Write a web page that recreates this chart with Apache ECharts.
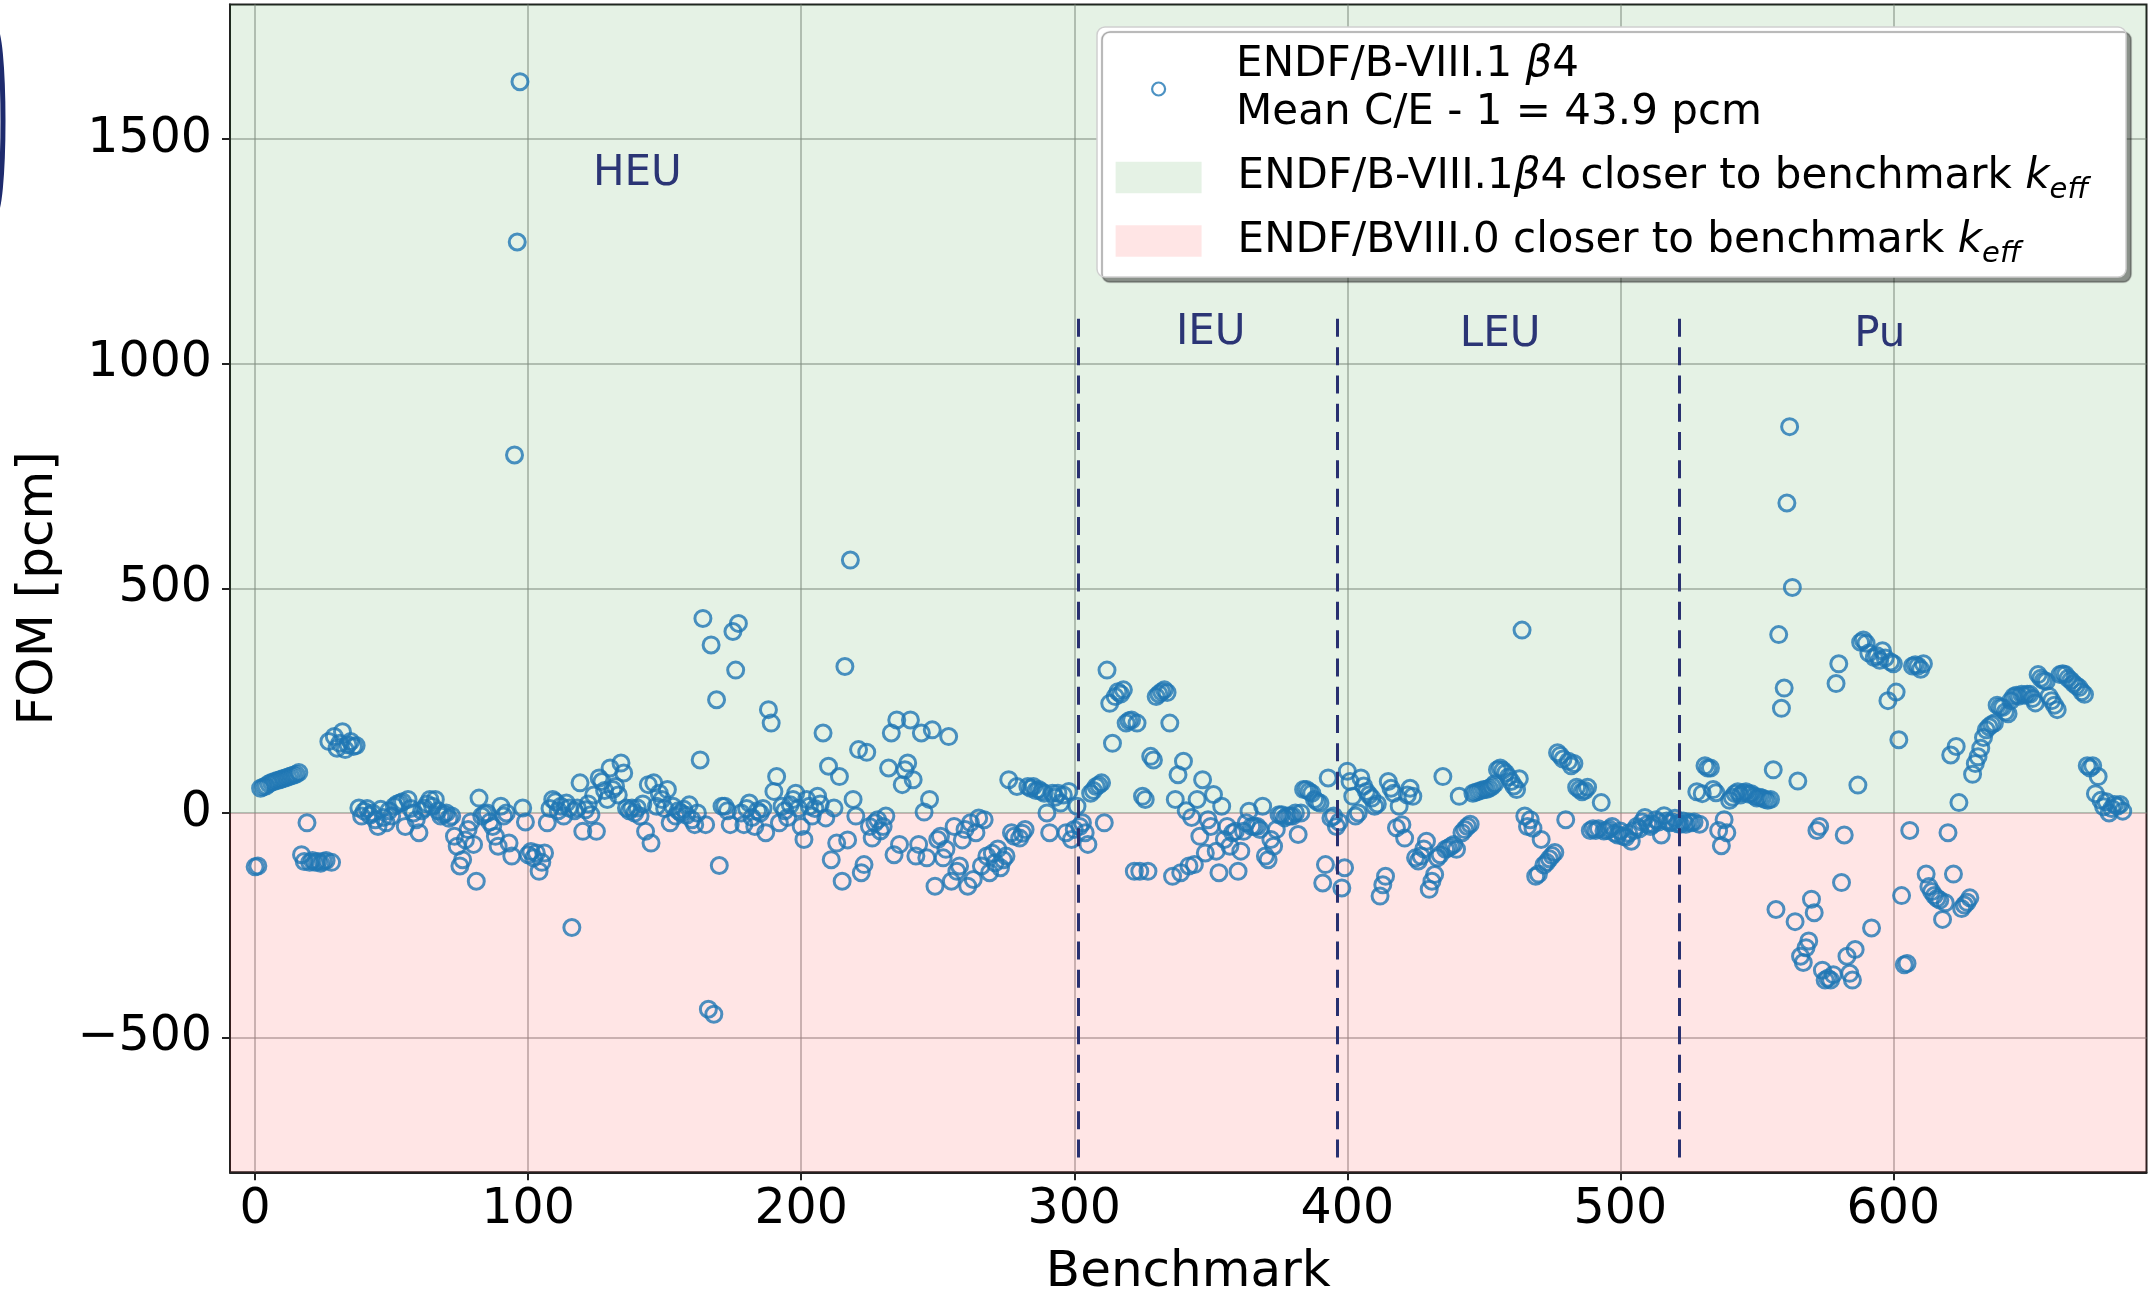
<!DOCTYPE html>
<html>
<head>
<meta charset="utf-8">
<script src="https://cdn.jsdelivr.net/npm/echarts@6/dist/echarts.min.js"></script>
<style>
html, body { margin: 0; padding: 0; background: #fff; }
#main { width: 2148px; height: 1292px; }
</style>
</head>
<body>
<div id="main"></div>
<script>
// FOM per benchmark (index = benchmark number)
var fom = [
    -120, -118, 55, 58, 60, 65, 68, 70, 72, 74,          // 0
    76, 78, 80, 82, 84, 86, 90, -93, -108, -22,          // 10
    -110, -106, -110, -108, -112, -108, -106, 159, -110, 170,
    144, 155, 181, 141, 152, 159, 148, 150, 11, -7,      // 30
    4, 10, -5, 0, -15, -30, 8, -10, -22, 5,
    -7, 15, 20, 22, 25, -30, 30, 10, 0, -15,             // 50
    -44, 5, 11, 20, 30, 15, 30, 5, -7, -3,
    0, -12, -7, -52, -74, -118, -104, -60, -37, -20,     // 70
    -70, -152, 33, -7, -2, 0, -20, -30, -52, -74,
    15, -7, 0, -67, -96, 797, 1271, 1628, 11, -20,       // 90
    -93, -86, -100, -89, -130, -110, -89, -22, 10, 30,
    25, 5, 15, -7, 22, 11, -255, 5, 11, 67,              // 110
    -41, 7, 20, -4, 40, -41, 78, 70, 50, 30,
    100, 52, 59, 40, 111, 89, 11, 5, 11, 0,              // 130
    11, -7, 20, -41, 63, -67, 67, 15, 44, 30,
    10, 52, -22, 15, -7, 5, 0, 8, -5, 18,                // 150
    -15, -26, 0, 118, 433, -26, -437, 374, -448, 252,
    -117, 15, 15, 5, -26, 404, 318, 422, 0, -26,         // 170
    10, 22, -10, -30, 5, 0, 10, -44, 230, 200,
    48, 81, -22, 15, 5, -10, 18, 30, 44, 10,             // 190
    -30, -59, 30, 15, -7, 10, 37, 20, 178, -11,
    104, -104, 11, -67, 81, -152, 326, -60, 563, 30,     // 210
    -7, 141, -133, -115, 135, -30, -56, -22, -15, -40,
    -30, -7, 100, 178, -93, 207, -70, 63, 96, 111,       // 230
    207, 74, -96, -70, 178, 2, -100, 30, 185, -163,
    -59, -52, -100, -81, 170, -152, -30, -130, -118, -60, // 250
    -37, -163, -22, -148, -44, -11, -118, -15, -96, -133,
    -90, -111, -80, -122, -104, -96, 74, -44, -52, 59,   // 270
    -56, -45, -37, 59, 55, 59, 50, 52, 48, 44,
    0, -44, 44, 35, 44, 22, 40, -44, 48, -59,            // 290
    -37, 15, -30, -22, -44, -70, 44, 50, 59, 62,
    67, -22, 318, 244, 155, 259, 270, 265, 274, 200,     // 310
    205, 207, -130, 200, -130, 37, 30, -130, 126, 118,
    259, 265, 270, 274, 268, 200, -141, 30, 85, -133,    // 330
    115, 5, -118, -10, -115, 30, -52, 74, -89, -15,
    -30, 41, -85, -133, 15, -59, -30, -74, -44, -41,     // 350
    -130, -85, -41, -22, 4, -30, -30, -30, -37, 15,
    -96, -104, -59, -74, -37, -4, -4, -11, -7, -7,       // 370
    -7, 0, -48, 0, 52, 52, 48, 44, 30, 25,
    22, -156, -115, 78, -11, -7, -30, -20, -167, -122,   // 390
    93, 70, 37, -7, 0, 78, 60, 48, 40, 33,
    15, 20, -185, -160, -141, 70, 55, 44, -33, 15,       // 410
    -26, -56, 40, 55, 37, -100, -107, -96, -80, -63,
    -170, -152, -137, -100, -93, 81, -81, -78, -74, -70, // 430
    -81, 37, -44, -37, -30, -25, 44, 46, 48, 50,
    52, 52, 55, 59, 65, 96, 100, 95, 89, 80,             // 450
    70, 60, 52, 76, 407, -7, -30, -15, -34, -141,
    -136, -59, -116, -110, -102, -95, -88, 134, 128, 120, // 470
    -15, 115, 105, 110, 57, 52, 47, 50, 57, -39,
    -35, -39, -35, 23, -40, -39, -36, -30, -45, -49,     // 490
    -40, -52, -54, -45, -63, -39, -30, -35, -20, -10,
    -25, -30, -25, -15, -20, -49, -6, -18, -22, -20,     // 510
    -12, -24, -25, -18, -25, -20, -22, -20, 47, -25,
    43, 105, 100, 100, 52, 45, -39, -73, -15, -44,       // 530
    28, 35, 43, 47, 40, 45, 47, 42, 43, 38,
    33, 35, 33, 30, 28, 30, 96, -215, 397, 233,          // 550
    278, 690, 860, 502, -242, 71, -319, -333, -300, -285,
    -192, -222, -39, -30, -350, -372, -368, -372, -360, 288, // 570
    332, -155, -49, -319, -357, -372, -304, 62, 380, 385,
    378, 356, -256, 346, 350, 340, 361, 345, 250, 336,   // 590
    332, 269, 163, -184, -338, -335, -39, 327, 330, 327,
    320, 332, -136, -164, -175, -184, -190, -194, -237, -200, // 610
    -44, 129, -136, 148, 23, -213, -205, -199, -189, 86,
    110, 125, 144, 168, 185, 192, 197, 200, 240, 236,    // 630
    235, 225, 221, 250, 259, 262, 260, 264, 262, 264,
    264, 255, 245, 308, 300, 295, 293, 260, 250, 240,    // 650
    230, 308, 310, 308, 300, 295, 288, 283, 279, 270,
    264, 105, 100, 105, 43, 81, 28, 14, 25, 0,           // 670
    10, 19, 15, 19, 4
];

var regionNames = ['HEU', 'IEU', 'LEU', 'Pu'];
var regionLabelX = [140, 350, 456, 595];
var regionLabelY = [1423, 1068, 1064, 1064];
var regionBounds = [301.5, 396.5, 521.5];

var xTicks = [0, 100, 200, 300, 400, 500, 600];
var yTicks = [-500, 0, 500, 1000, 1500];

var nameScatter = 'ENDF/B-VIII.1 β4';
var nameGreen = 'ENDF/B-VIII.1β4 closer to benchmark keff';
var nameRed = 'ENDF/BVIII.0 closer to benchmark keff';

var myChart = echarts.init(document.getElementById('main'));

var points = fom.map(function (v, i) { return [i, v]; });

var option = {
    animation: false,
    textStyle: { fontFamily: 'DejaVu Sans' },
    grid: {
        left: 230, right: 1.5, top: 4.4, bottom: 119.7,
        outerBoundsMode: 'none',
        show: true, borderColor: '#222', borderWidth: 2
    },
    graphic: [
        {   // legend frame with shadow
            type: 'rect', z: 3,
            shape: { x: 1097, y: 27, width: 1029, height: 250, r: 8 },
            style: {
                fill: '#fff', stroke: '#cfcfcf', lineWidth: 1.5,
                shadowColor: 'rgba(0,0,0,0.4)', shadowOffsetX: 5, shadowOffsetY: 5, shadowBlur: 1
            }
        },
        {   // stray edge of neighbouring figure
            type: 'ellipse', z: 3,
            shape: { cx: -6, cy: 121, rx: 9, ry: 95 },
            style: { fill: 'none', stroke: '#1e2b6e', lineWidth: 5 }
        }
    ],
    legend: [
        {
            data: [{
                name: nameScatter, icon: 'circle',
                itemStyle: { color: 'rgba(0,0,0,0)', borderColor: '#1f77b4', borderWidth: 2.2 }
            }],
            orient: 'vertical', left: 1151, top: 41, padding: 0,
            itemWidth: 81, itemHeight: 13, selectedMode: false,
            formatter: function () {
                return 'ENDF/B-VIII.1 {it|β}4\nMean C/E - 1 = 43.9 pcm';
            },
            textStyle: {
                fontSize: 42, lineHeight: 48, color: '#000', padding: [0, 0, 0, 32],
                rich: { it: { fontSize: 42, fontStyle: 'italic', lineHeight: 48 } }
            }
        },
        {
            data: [
                { name: nameGreen, icon: 'rect', itemStyle: { color: 'rgba(0,128,0,0.1)', borderWidth: 0 } },
                { name: nameRed, icon: 'rect', itemStyle: { color: 'rgba(255,0,0,0.1)', borderWidth: 0 } }
            ],
            orient: 'vertical', left: 1115.6, top: 150, padding: 0, itemGap: 8.5,
            itemWidth: 86, itemHeight: 31.6, selectedMode: false,
            formatter: function (name) {
                return name.replace('β', '{it|β}').replace('keff', '{k|k}{s|eff}');
            },
            textStyle: {
                fontSize: 42, lineHeight: 44, color: '#000', padding: [0, 0, 0, 31],
                rich: {
                    it: { fontSize: 42, fontStyle: 'italic', lineHeight: 44 },
                    k: { fontSize: 42, fontStyle: 'italic', lineHeight: 44 },
                    s: { fontSize: 29, fontStyle: 'italic', lineHeight: 29, padding: [26, 0, 0, 0] }
                }
            }
        }
    ],
    xAxis: {
        type: 'value', min: -9.2, max: 692.7, splitNumber: 7,
        name: 'Benchmark', nameLocation: 'middle', nameGap: 76,
        nameTextStyle: { fontSize: 50, color: '#000' },
        axisLine: { show: true, onZero: false, lineStyle: { color: '#222', width: 2 } },
        axisTick: { show: true, length: 8, lineStyle: { color: '#222', width: 2 }, customValues: xTicks },
        axisLabel: { fontSize: 49, color: '#000', margin: 13, customValues: xTicks },
        splitLine: { show: true, lineStyle: { color: 'rgba(140,140,140,0.5)', width: 2 } }
    },
    yAxis: {
        type: 'value', min: -800, max: 1800, splitNumber: 5,
        name: 'FOM [pcm]', nameLocation: 'middle', nameGap: 166,
        nameTextStyle: { fontSize: 50, color: '#000' },
        axisLine: { show: true, onZero: false, lineStyle: { color: '#222', width: 2 } },
        axisTick: { show: true, length: 8, lineStyle: { color: '#222', width: 2 }, customValues: yTicks },
        axisLabel: {
            fontSize: 49, color: '#000', margin: 18, customValues: yTicks,
            formatter: function (v) { return String(v).replace('-', '\u2212'); }
        },
        splitLine: { show: true, lineStyle: { color: 'rgba(140,140,140,0.5)', width: 2 } }
    },
    series: [
        {
            name: nameGreen, type: 'line', data: [],
            markArea: {
                silent: true,
                itemStyle: { color: 'rgba(0,128,0,0.1)' },
                data: [[{ yAxis: 0 }, { yAxis: 1800 }]]
            }
        },
        {
            name: nameRed, type: 'line', data: [],
            markArea: {
                silent: true,
                itemStyle: { color: 'rgba(255,0,0,0.1)' },
                data: [[{ yAxis: -800 }, { yAxis: 0 }]]
            }
        },
        {
            name: nameScatter, type: 'scatter', data: points,
            symbol: 'circle', symbolSize: 16, z: 3,
            itemStyle: { color: 'rgba(0,0,0,0)', borderColor: '#1f77b4', borderWidth: 3 },
            markLine: {
                silent: true, symbol: ['none', 'none'],
                label: { show: false },
                lineStyle: { color: '#283070', width: 3, type: [18, 10.3] },
                data: regionBounds.map(function (b) {
                    return [{ coord: [b, 1100] }, { coord: [b, -767] }];
                })
            },
            markPoint: {
                silent: true, symbol: 'rect', symbolSize: 1,
                itemStyle: { color: 'rgba(0,0,0,0)' },
                label: { show: true, position: 'inside', formatter: '{b}', color: '#2b3575', fontSize: 42 },
                data: regionNames.map(function (n, i) {
                    return { name: n, coord: [regionLabelX[i], regionLabelY[i]] };
                })
            }
        }
    ]
};
myChart.setOption(option);
</script>
</body>
</html>
